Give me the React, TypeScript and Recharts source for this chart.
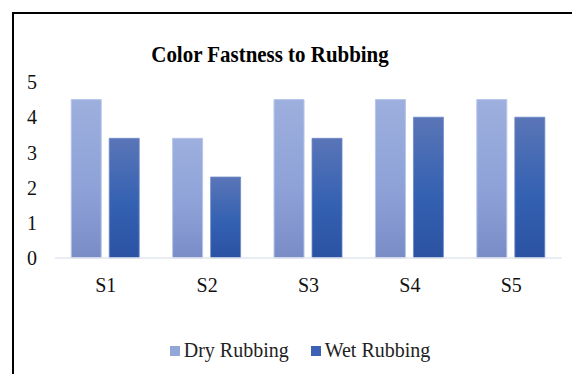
import React from 'react';
import { BarChart, Bar, XAxis, YAxis } from 'recharts';

const samples = ['S1', 'S2', 'S3', 'S4', 'S5'];
const dryRubbing = [4.5, 3.4, 4.5, 4.5, 4.5];
const wetRubbing = [3.4, 2.3, 3.4, 4.0, 4.0];
const yTicks = [0, 1, 2, 3, 4, 5];

const data = samples.map((s, i) => ({ name: s, dry: dryRubbing[i], wet: wetRubbing[i] }));

const FONT = '"Liberation Serif", "Times New Roman", serif';

const legendItems = [
  { label: 'Dry Rubbing', color: '#93A6D8' },
  { label: 'Wet Rubbing', color: '#3D62B4' },
];

const ChartLegend = () => (
  <div style={{ position: 'absolute', left: 0, top: 339, width: 600, display: 'flex', justifyContent: 'center', alignItems: 'center', gap: 22, fontFamily: FONT, fontSize: 20, color: '#222' }}>
    {legendItems.map((it) => (
      <div key={it.label} style={{ display: 'flex', alignItems: 'center' }}>
        <span style={{ display: 'inline-block', width: 10, height: 10, background: it.color, marginRight: 4 }} />
        <span>{it.label}</span>
      </div>
    ))}
  </div>
);

export default function App() {
  return (
    <div style={{ position: 'fixed', left: 0, top: 0, width: 572, height: 374, background: '#fff', overflow: 'hidden' }}>
      <div style={{ position: 'absolute', left: 12, top: 12, width: 580, height: 380, borderLeft: '2px solid #000', borderTop: '2px solid #000', boxSizing: 'border-box' }} />
      <div style={{ position: 'absolute', left: 0, top: 42, width: 540, textAlign: 'center', fontFamily: FONT, fontWeight: 'bold', fontSize: 23, color: '#000', transform: 'scaleX(0.91)', transformOrigin: '270px 0' }}>
        Color Fastness to Rubbing
      </div>
      <div style={{ position: 'absolute', left: 0, top: 0 }}>
        <BarChart
          width={572}
          height={374}
          data={data}
          margin={{ top: 82, right: 10, bottom: 86, left: 0 }}
          barCategoryGap="16%"
          barGap={8}
        >
          <defs>
            <linearGradient id="gradDry" x1="0" y1="0" x2="0" y2="1">
              <stop offset="0%" stopColor="#9DAFDD" />
              <stop offset="55%" stopColor="#8EA2D8" />
              <stop offset="100%" stopColor="#7A8CC6" />
            </linearGradient>
            <linearGradient id="gradWet" x1="0" y1="0" x2="0" y2="1">
              <stop offset="0%" stopColor="#5A75B7" />
              <stop offset="55%" stopColor="#3461B2" />
              <stop offset="100%" stopColor="#2B52A2" />
            </linearGradient>
          </defs>
          <XAxis
            dataKey="name"
            height={30}
            tickLine={false}
            axisLine={{ stroke: '#E2E6EE', strokeWidth: 1.5 }}
            tick={{ fontFamily: FONT, fontSize: 20, fill: '#111' }}
            tickMargin={14}
          />
          <YAxis
            width={55}
            domain={[0, 5]}
            ticks={yTicks}
            tickLine={false}
            axisLine={false}
            tick={{ fontFamily: FONT, fontSize: 20, fill: '#111' }}
            tickMargin={12}
          />
          <Bar dataKey="dry" name="Dry Rubbing" fill="url(#gradDry)" stroke="#B7C5EA" strokeWidth={1} isAnimationActive={false} />
          <Bar dataKey="wet" name="Wet Rubbing" fill="url(#gradWet)" stroke="#6E89C8" strokeWidth={0.8} isAnimationActive={false} />
        </BarChart>
      </div>
      <ChartLegend />
    </div>
  );
}
